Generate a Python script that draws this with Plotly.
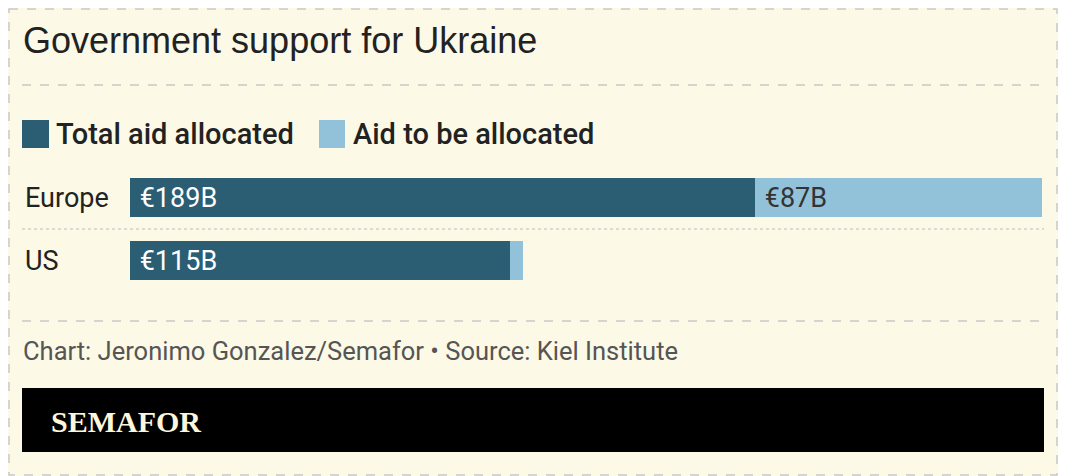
import plotly.graph_objects as go

regions = ["Europe", "US"]
allocated = [189, 115]
to_allocate = [87, 4]
allocated_labels = ["€189B", "€115B"]
to_allocate_labels = ["€87B", ""]
series_names = ["Total aid allocated", "Aid to be allocated"]

W, H = 1066, 476
OFF = 8  # page body offset in the browser
L, R, T, B = 130 - OFF, 1042 - OFF, 166 - OFF, 292 - OFF  # plot area in figure pixels


def px(x):
    return (x - OFF - L) / (R - L)


def py(y):
    return (B - (y - OFF)) / (B - T)


bg = "#fcf9e6"
dark = "#2b5d73"
light = "#92c2da"
pad = "\u00a0"

fig = go.Figure()
fig.add_trace(go.Bar(
    y=regions, x=allocated, orientation="h", name=series_names[0], showlegend=False,
    marker=dict(color=dark, line=dict(width=0)), text=[pad + t for t in allocated_labels],
    textposition="inside", insidetextanchor="start",
    textfont=dict(color="white", size=27, family="Roboto"), width=0.62,
))
fig.add_trace(go.Bar(
    y=regions, x=to_allocate, orientation="h", name=series_names[1], showlegend=False,
    marker=dict(color=light, line=dict(width=0)),
    text=[pad + t if t else "" for t in to_allocate_labels],
    textposition="inside", insidetextanchor="start",
    textfont=dict(color="#333333", size=27, family="Roboto"), width=0.62,
))

line_grey = "#c8c8c8"
shapes = [
    dict(type="rect", xref="paper", yref="paper", x0=px(9), x1=px(1057), y0=py(9), y1=py(475),
         line=dict(color=line_grey, width=1.5, dash="dash")),
    dict(type="line", xref="paper", yref="paper", x0=px(22), x1=px(1044), y0=py(85), y1=py(85),
         line=dict(color=line_grey, width=1.5, dash="dash")),
    dict(type="line", xref="paper", yref="paper", x0=px(22), x1=px(1044), y0=py(229), y1=py(229),
         line=dict(color="#d0d0d0", width=1.5, dash="dot")),
    dict(type="line", xref="paper", yref="paper", x0=px(22), x1=px(1044), y0=py(321), y1=py(321),
         line=dict(color=line_grey, width=1.5, dash="dash")),
    dict(type="rect", xref="paper", yref="paper", x0=px(22), x1=px(1044), y0=py(388), y1=py(452),
         fillcolor="black", line=dict(width=0)),
    # legend swatches
    dict(type="rect", xref="paper", yref="paper", x0=px(22), x1=px(49), y0=py(120), y1=py(148),
         fillcolor=dark, line=dict(width=0)),
    dict(type="rect", xref="paper", yref="paper", x0=px(319), x1=px(345), y0=py(120), y1=py(148),
         fillcolor=light, line=dict(width=0)),
]

annotations = [
    dict(text="Government support for Ukraine", x=px(21), y=py(40), xref="paper", yref="paper",
         xanchor="left", yanchor="middle", showarrow=False,
         font=dict(size=36, color="#222222", family="Liberation Sans")),
    dict(text=series_names[0], x=px(54), y=py(134), xref="paper", yref="paper",
         xanchor="left", yanchor="middle", showarrow=False,
         font=dict(size=29, color="#222222", family="Roboto", weight=500)),
    dict(text=series_names[1], x=px(351), y=py(134), xref="paper", yref="paper",
         xanchor="left", yanchor="middle", showarrow=False,
         font=dict(size=29, color="#222222", family="Roboto", weight=500)),
    dict(text="Chart: Jeronimo Gonzalez/Semafor • Source: Kiel Institute", x=px(21), y=py(351),
         xref="paper", yref="paper", xanchor="left", yanchor="middle", showarrow=False,
         font=dict(size=25.5, color="#555555", family="Roboto")),
    dict(text="<b>SEMAFOR</b>", x=px(49), y=py(421), xref="paper", yref="paper",
         xanchor="left", yanchor="middle", showarrow=False,
         font=dict(size=30, color="#fcf7dc", family="Liberation Serif")),
]
for r in regions:
    annotations.append(dict(text=r, x=px(23), y=r, xref="paper", yref="y",
                            xanchor="left", yanchor="middle", showarrow=False,
                            font=dict(size=27, color="#222222", family="Roboto")))

fig.update_layout(
    width=W, height=H, barmode="stack", bargap=0,
    paper_bgcolor=bg, plot_bgcolor=bg,
    margin=dict(l=L, r=W - R, t=T, b=H - B, pad=0),
    xaxis=dict(range=[0, allocated[0] + to_allocate[0]], visible=False, fixedrange=True),
    yaxis=dict(categoryorder="array", categoryarray=regions, autorange="reversed",
               visible=False, fixedrange=True),
    showlegend=False,
    shapes=shapes, annotations=annotations,
    uniformtext=dict(minsize=10, mode="hide"),
)

fig.write_html("out.html", config={"displayModeBar": False})
